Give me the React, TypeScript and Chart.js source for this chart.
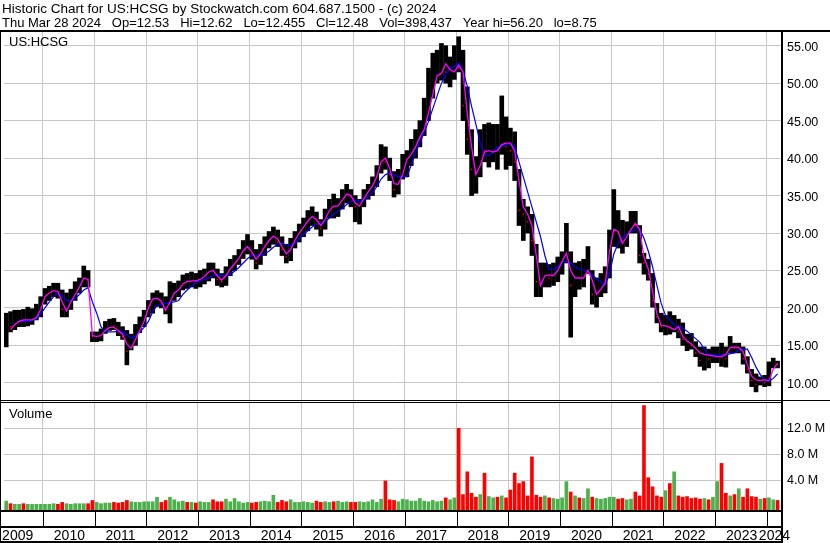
import React, { useEffect, useRef } from 'react';
import { Chart, registerables } from 'chart.js';

Chart.register(...registerables);

const FONT = '"Liberation Sans", Arial, Helvetica, sans-serif';

// First monthly bar: April 2009; last: March 2024 (180 months)
const FIRST_YEAR = 2009;
const FIRST_MONTH = 4;

// Monthly high (USD)
const high = [
  19.3, 19.5, 19.7, 19.7, 19.8, 20.1, 19.9, 20.5, 21.5,
  22.6, 22.9, 23.3, 23.3, 22.4, 22.0, 22.5, 23.5, 24.0, 25.6, 25.0, 16.8,
  16.8, 17.2, 18.2, 18.5, 18.6, 18.1, 17.5, 17.0, 16.5, 17.8, 18.8, 19.7,
  21.0, 22.0, 22.3, 22.0, 21.5, 23.5, 23.3, 23.6, 24.4, 24.6, 24.8, 24.6,
  25.0, 25.2, 26.0, 26.0, 25.2, 24.6, 25.5, 26.5, 27.0, 27.8, 29.0, 29.8,
  29.0, 27.8, 28.5, 29.5, 30.2, 30.8, 30.4, 29.5, 28.5, 29.3, 30.2, 31.2,
  32.0, 33.0, 33.5, 32.8, 31.8, 33.2, 34.5, 35.2, 34.6, 35.8, 36.5, 35.8,
  35.0, 34.5, 35.8, 36.5, 37.5, 39.0, 41.8, 41.5, 40.0, 38.2, 38.5, 40.5,
  41.0, 42.5, 43.8, 45.0, 48.0, 52.0, 54.0, 54.4, 55.3, 55.0, 53.5, 55.0,
  56.2, 54.4, 49.5, 43.8, 40.2, 43.8, 44.5, 44.7, 44.5, 44.5, 48.3, 45.5,
  44.0, 43.5, 38.5, 34.5, 33.5, 32.5, 28.5, 26.0, 26.0, 25.8, 26.0, 26.8,
  27.5, 31.3, 27.5, 26.0, 26.2, 26.5, 28.2, 25.0, 24.0, 24.6, 25.5, 30.4,
  35.8, 33.0, 31.7, 31.5, 32.9, 32.9, 31.0, 27.3, 26.5, 24.6, 20.6, 19.3,
  19.0, 19.5, 19.0, 18.5, 18.0, 16.5, 16.6, 15.5, 14.8, 14.8, 14.5, 14.8,
  14.8, 15.3, 14.8, 16.2, 15.3, 15.3, 14.8, 13.5, 11.8, 11.2, 10.8, 11.0,
  12.8, 13.3, 12.9,
];

// Monthly low (USD)
const low = [
  14.8, 16.8, 17.1, 17.5, 17.5, 17.6, 17.8, 18.4, 18.8,
  20.5, 21.0, 21.5, 21.3, 18.8, 18.8, 19.8, 21.0, 22.0, 22.8, 22.8, 15.5,
  15.5, 15.6, 16.6, 17.0, 17.1, 16.3, 15.8, 12.4, 14.4, 15.0, 16.7, 17.5,
  18.8, 19.3, 20.2, 20.0, 19.2, 18.0, 21.0, 21.5, 22.4, 22.6, 22.8, 22.6,
  22.8, 23.2, 23.6, 24.0, 23.0, 22.8, 23.0, 24.3, 25.0, 25.8, 26.6, 27.2,
  26.5, 25.2, 25.8, 27.0, 28.0, 28.5, 28.2, 27.0, 26.0, 26.3, 28.0, 28.8,
  29.5, 30.3, 31.0, 30.5, 29.6, 30.5, 32.0, 32.0, 32.2, 33.2, 34.0, 33.5,
  31.5, 31.2, 33.5, 34.5, 35.0, 36.2, 38.0, 38.5, 37.0, 34.8, 35.2, 37.2,
  37.5, 39.0, 40.0, 41.5, 43.0, 45.0, 48.0, 50.0, 50.4, 50.0, 49.5, 50.5,
  51.5, 45.0, 40.5, 35.0, 35.3, 37.5, 39.5, 38.8, 39.5, 38.5, 40.5, 38.5,
  39.0, 37.0, 31.0, 29.0, 30.0, 27.0, 21.5, 21.5, 22.8, 22.8, 23.0, 23.5,
  24.5, 26.0, 16.1, 21.5, 22.5, 22.8, 24.6, 20.5, 20.1, 21.5, 22.0, 24.0,
  28.2, 28.0, 27.3, 28.2, 30.0, 30.0, 26.0, 24.5, 23.7, 20.1, 18.0, 16.8,
  16.4, 16.5, 16.8, 16.0, 15.0, 14.3, 14.5, 13.5, 12.2, 11.7, 12.0, 12.7,
  12.7, 12.2, 12.1, 14.0, 14.0, 14.0, 12.5, 11.3, 9.5, 8.8, 9.7, 9.5,
  9.6, 12.0, 12.0,
];

// Monthly close (USD)
const close = [
  18.0, 17.5, 18.2, 18.6, 18.3, 18.5, 18.8, 19.6, 20.6,
  21.9, 22.2, 22.5, 22.0, 19.8, 20.2, 21.6, 22.8, 23.6, 24.5, 23.8, 16.2,
  16.2, 16.5, 17.6, 17.8, 17.6, 16.8, 16.2, 14.2, 15.6, 17.2, 18.2, 19.2,
  20.5, 21.2, 21.5, 20.8, 19.8, 22.0, 22.5, 22.8, 23.6, 23.5, 23.8, 23.6,
  24.0, 24.5, 25.2, 25.0, 23.8, 23.5, 24.8, 25.6, 26.2, 27.0, 28.2, 28.4,
  27.2, 26.0, 28.0, 28.6, 29.5, 30.0, 28.8, 27.8, 26.8, 28.8, 29.6, 30.5,
  31.2, 32.0, 32.5, 31.2, 30.6, 32.6, 33.8, 33.5, 33.8, 35.0, 35.5, 34.8,
  33.5, 33.8, 35.2, 35.8, 36.8, 38.2, 40.5, 39.5, 37.8, 35.8, 37.8, 39.0,
  39.5, 41.0, 42.0, 43.5, 46.5, 50.0, 51.5, 52.0, 53.0, 51.5, 51.5, 52.5,
  52.0, 47.0, 42.5, 38.5, 38.0, 41.5, 41.0, 41.8, 42.0, 41.0, 43.0, 41.5,
  41.0, 39.5, 33.0, 32.5, 31.5, 29.0, 23.5, 23.2, 24.8, 24.0, 24.8, 25.5,
  26.5, 27.0, 23.0, 24.5, 24.0, 24.5, 26.0, 21.8, 22.0, 23.5, 24.5, 29.5,
  31.5, 30.0, 29.0, 30.0, 31.5, 31.0, 27.0, 26.0, 24.5, 21.0, 18.8, 17.5,
  17.8, 17.4, 18.0, 16.8, 15.8, 15.5, 15.0, 14.0, 13.0, 13.5, 13.2, 13.5,
  13.6, 13.5, 13.2, 15.0, 14.6, 14.8, 13.2, 11.8, 10.3, 9.8, 10.3, 10.0,
  12.2, 12.8, 12.48,
];

// Short moving average (magenta)
const maFast = [
  null, 17.1, 17.8, 18.2, 18.4, 18.4, 18.4, 18.7, 19.8,
  21.5, 22.0, 22.3, 22.2, 20.8, 19.6, 20.8, 21.8, 22.8, 24.0, 23.8, 16.3,
  16.2, 16.3, 17.0, 17.4, 17.4, 17.0, 16.5, 15.2, 14.6, 15.8, 17.0, 18.2,
  20.0, 21.2, 21.3, 20.9, 19.7, 20.8, 22.0, 22.4, 23.2, 23.5, 23.6, 23.6,
  23.8, 24.2, 24.8, 25.0, 24.3, 23.7, 24.3, 25.2, 25.9, 26.6, 27.6, 28.2,
  27.5, 26.5, 27.2, 28.2, 29.0, 29.6, 29.2, 28.2, 27.2, 27.8, 29.0, 30.0,
  30.8, 31.6, 32.2, 31.8, 31.0, 31.8, 33.0, 33.6, 33.6, 34.4, 35.2, 35.0,
  34.0, 33.6, 34.6, 35.5, 36.3, 37.5, 39.5, 40.0, 38.6, 36.6, 36.5, 37.8,
  39.8, 40.5, 41.5, 42.8, 43.8, 46.0, 48.5, 51.0, 51.3, 52.6, 51.8, 51.5,
  52.4, 51.5, 46.0, 41.5, 37.8, 39.0, 40.8, 41.0, 40.8, 41.0, 41.8, 42.0,
  42.0, 41.0, 37.0, 33.5, 32.5, 31.0, 27.0, 23.0, 24.3, 24.4, 24.3, 25.0,
  26.2, 27.3, 25.0, 24.0, 24.0, 24.0, 25.0, 23.7, 21.8, 22.5, 23.3, 27.5,
  30.5, 30.2, 28.6, 29.5, 30.5, 31.3, 30.5, 26.8, 25.2, 22.2, 19.2, 17.7,
  17.6, 17.4, 17.1, 17.5, 16.2, 15.6, 15.2, 14.6, 14.0, 13.8, 13.7, 13.6,
  13.5, 13.5, 13.8, 14.7, 14.8, 14.7, 14.2, 12.4, 10.9, 10.4, 10.3, 10.4,
  10.3, 11.8, 12.6,
];

// Long moving average (blue)
const maSlow = [
  null, null, null, 18.2, 18.2, 18.2, 18.3, 18.6, 19.2,
  20.0, 20.8, 21.5, 22.0, 21.6, 21.0, 21.0, 21.3, 21.8, 22.4, 22.7, 20.8,
  19.3, 17.5, 16.8, 16.8, 16.8, 16.9, 16.8, 16.4, 16.0, 16.2, 16.8, 17.4,
  18.2, 19.5, 20.3, 20.5, 20.6, 20.7, 20.8, 21.0, 21.8, 22.4, 22.9, 23.4,
  23.6, 23.8, 24.0, 24.3, 24.4, 24.3, 24.3, 24.5, 24.9, 25.4, 26.0, 26.6,
  27.0, 27.0, 27.0, 27.2, 27.6, 28.1, 28.5, 28.6, 28.4, 28.3, 28.6, 29.2,
  29.8, 30.3, 30.8, 31.2, 31.3, 31.5, 32.0, 32.5, 32.9, 33.3, 33.8, 34.2,
  34.4, 34.3, 34.4, 34.8, 35.4, 36.2, 37.2, 37.8, 38.0, 37.8, 37.5, 37.6,
  37.5, 39.1, 40.7, 42.0, 43.4, 44.9, 46.6, 48.3, 50.0, 51.1, 52.0, 52.2,
  52.7, 51.6, 49.6, 46.9, 44.5, 42.0, 40.5, 40.3, 40.9, 41.4, 41.6, 41.8,
  42.0, 41.5, 39.5, 37.5, 35.5, 33.5, 31.5, 29.5, 27.0, 25.1, 25.1, 25.5,
  26.1, 26.2, 26.0, 25.5, 25.2, 25.1, 24.8, 24.4, 23.9, 23.5, 23.1, 24.5,
  27.2, 28.6, 29.4, 29.8, 30.2, 30.4, 30.5, 29.3, 27.6, 25.5, 23.0, 20.6,
  19.0, 18.4, 17.8, 17.5, 17.3, 16.9, 16.4, 15.9, 15.4, 14.5, 13.8, 13.7,
  13.7, 13.7, 13.7, 13.9, 14.0, 14.3, 14.5, 14.5, 13.4, 12.1, 11.1, 10.4,
  10.2, 10.6, 11.2,
];

// Volume (millions of shares)
const volume = [
  0.8, 0.4, 0.3, 0.3, 0.4, 0.3, 0.3, 0.3, 0.3,
  0.3, 0.3, 0.4, 0.3, 0.6, 0.4, 0.3, 0.4, 0.4, 0.4, 0.4, 0.9,
  0.6, 0.4, 0.5, 0.5, 0.6, 0.5, 0.6, 0.9, 0.7, 0.6, 0.6, 0.7,
  0.7, 0.7, 1.4, 0.6, 0.9, 1.4, 1.0, 0.7, 0.8, 0.6, 0.6, 0.5,
  0.7, 0.6, 0.6, 1.0, 0.7, 0.7, 1.1, 0.7, 1.2, 0.7, 0.5, 0.6,
  0.5, 0.6, 0.7, 0.8, 0.7, 1.7, 0.6, 0.9, 0.7, 1.0, 0.6, 0.6,
  0.7, 0.6, 0.5, 0.8, 0.6, 0.7, 0.6, 0.7, 0.8, 0.6, 0.7, 0.6,
  0.6, 0.7, 0.6, 0.7, 1.0, 0.6, 1.1, 3.9, 1.0, 0.9, 0.7, 1.1,
  1.0, 0.8, 0.8, 1.2, 0.8, 0.7, 0.9, 0.7, 0.8, 1.3, 1.0, 1.3,
  12.0, 1.8, 5.3, 2.0, 1.4, 1.8, 5.1, 1.5, 1.3, 1.4, 1.6, 1.3,
  2.5, 5.1, 3.5, 3.8, 1.6, 7.6, 1.7, 1.4, 1.6, 1.3, 1.2, 1.1,
  1.3, 3.8, 2.2, 1.6, 1.3, 1.2, 2.7, 1.4, 1.2, 1.1, 1.2, 1.4,
  1.4, 1.1, 1.2, 1.0, 1.1, 2.2, 1.6, 15.5, 4.4, 3.0, 1.6, 1.4,
  2.4, 3.5, 5.3, 1.6, 1.4, 1.5, 1.2, 1.3, 1.1, 1.2, 1.0, 1.4,
  3.8, 6.6, 2.0, 1.6, 1.8, 2.7, 1.4, 2.7, 1.5, 1.4, 1.1, 1.2,
  1.3, 1.0, 0.9,
];

const yearLabels = [2009, 2010, 2011, 2012, 2013, 2014, 2015, 2016, 2017, 2018, 2019, 2020, 2021, 2022, 2023, 2024];
const priceTicks = [10, 12.5, 15, 17.5, 20, 22.5, 25, 27.5, 30, 32.5, 35, 37.5, 40, 42.5, 45, 47.5, 50, 52.5, 55];
const volumeTicks = [4, 8, 12];

const headerLine1 = 'Historic Chart for US:HCSG by Stockwatch.com 604.687.1500 - (c) 2024';
const headerLine2 = 'Thu Mar 28 2024   Op=12.53   Hi=12.62   Lo=12.455   Cl=12.48   Vol=398,437   Year hi=56.20   lo=8.75';
const symbolLabel = 'US:HCSG';
const volumeLabel = 'Volume';

// axis ranges
const X_MIN = 2009.249;
const X_MAX = 2024.275;
const PRICE_MIN = 7.58;
const PRICE_MAX = 56.83;
const VOL_MIN = -0.57;
const VOL_MAX = 16.2;

function monthPos(i: number): number {
  const m = FIRST_MONTH - 1 + i;
  return FIRST_YEAR + (m + 0.5) / 12;
}

const framePlugin = {
  id: 'stockwatchFrame',
  afterDraw(chart: any) {
    const { ctx, scales } = chart;
    const xs = scales.x;
    ctx.save();
    ctx.fillStyle = '#000';
    ctx.textBaseline = 'alphabetic';
    ctx.textAlign = 'left';
    ctx.font = `13.5px ${FONT}`;
    ctx.fillText(headerLine1, 2, 13);
    ctx.font = `13px ${FONT}`;
    ctx.fillText(headerLine2, 2, 27);

    // frame lines
    ctx.fillRect(0, 30, 830, 2);
    ctx.fillRect(0, 30, 1, 513);
    ctx.fillRect(781, 30, 2, 513);
    ctx.fillRect(0, 400, 830, 1);
    ctx.fillRect(0, 402, 781, 1);
    ctx.fillRect(0, 510, 781, 2);
    ctx.fillRect(0, 526, 781, 2);
    ctx.fillRect(0, 541, 781, 2);
    for (const yr of yearLabels) {
      if (yr <= FIRST_YEAR) continue;
      const px = Math.round(xs.getPixelForValue(yr));
      ctx.fillRect(px, 512, 1, 14);
    }

    ctx.font = `13px ${FONT}`;
    ctx.fillText(symbolLabel, 9, 46);
    ctx.fillText(volumeLabel, 9, 418);

    ctx.font = `14px ${FONT}`;
    for (const yr of yearLabels) {
      const s = String(yr);
      const w = ctx.measureText(s).width;
      const px = xs.getPixelForValue(yr) + 11;
      const x = Math.min(Math.max(px, 2), 790 - w);
      ctx.fillText(s, x, 540);
    }
    ctx.restore();
  },
};

export default function App() {
  const ref = useRef<HTMLCanvasElement | null>(null);

  useEffect(() => {
    const canvas = ref.current;
    if (!canvas) return;
    Chart.defaults.font.family = FONT;

    const rangeData = high.map((h, i) => ({ x: monthPos(i), y: [low[i], h] }));
    const fastData = maFast.map((v, i) => ({ x: monthPos(i), y: v }));
    const slowData = maSlow.map((v, i) => ({ x: monthPos(i), y: v }));
    const downTicks = close
      .map((c, i) => ({ x: monthPos(i), y: c, down: i > 0 && c < close[i - 1] }))
      .filter((p) => p.down)
      .map((p) => ({ x: p.x, y: p.y }));
    const volData = volume.map((v, i) => ({ x: monthPos(i), y: v }));
    const volColors = volume.map((_, i) => (i > 0 && close[i] < close[i - 1] ? '#ff0000' : '#4cb04c'));

    const chart = new Chart(canvas, {
      type: 'bar',
      data: {
        datasets: [
          {
            type: 'line',
            label: 'MA short',
            data: fastData as any,
            borderColor: '#ff00ff',
            borderWidth: 1.3,
            pointRadius: 0,
            tension: 0,
            yAxisID: 'yP',
            order: 0,
          },
          {
            type: 'line',
            label: 'MA long',
            data: slowData as any,
            borderColor: '#0000ff',
            borderWidth: 1.2,
            pointRadius: 0,
            tension: 0,
            yAxisID: 'yP',
            order: 1,
          },
          {
            type: 'scatter',
            label: 'Close',
            data: downTicks as any,
            backgroundColor: '#ff0000',
            borderColor: '#ff0000',
            pointStyle: 'rect',
            pointRadius: 1,
            borderWidth: 0,
            yAxisID: 'yP',
            order: 2,
          },
          {
            type: 'bar',
            label: 'Range',
            data: rangeData as any,
            backgroundColor: '#000000',
            barThickness: 4,
            grouped: false,
            yAxisID: 'yP',
            order: 3,
          },
          {
            type: 'bar',
            label: 'Volume',
            data: volData as any,
            backgroundColor: volColors,
            barThickness: 3,
            grouped: false,
            base: VOL_MIN,
            yAxisID: 'yV',
            order: 4,
          } as any,
        ],
      },
      options: {
        responsive: false,
        maintainAspectRatio: false,
        animation: false,
        layout: { padding: { left: 1, top: 32, right: 0, bottom: 0 } },
        plugins: {
          legend: { display: false },
          tooltip: { enabled: false },
        },
        scales: {
          x: {
            type: 'linear',
            min: X_MIN,
            max: X_MAX,
            position: 'bottom',
            offset: false,
            grid: { color: '#c8c8c8', lineWidth: 1, drawTicks: false, offset: false },
            border: { display: false },
            ticks: { display: false },
            afterBuildTicks: (s: any) => {
              s.ticks = yearLabels.filter((y) => y > FIRST_YEAR).map((v) => ({ value: v }));
            },
            afterFit: (s: any) => {
              s.height = 33;
            },
          },
          yP: {
            type: 'linear',
            position: 'right',
            stack: 'panels',
            stackWeight: 369,
            min: PRICE_MIN,
            max: PRICE_MAX,
            grid: { color: '#c8c8c8', lineWidth: 1, drawTicks: false },
            border: { display: false },
            ticks: {
              color: '#000',
              font: { family: FONT, size: 12.5 },
              padding: 6,
              labelOffset: 1.5,
              callback: (v: any) => Number(v).toFixed(2),
            },
            afterBuildTicks: (s: any) => {
              s.ticks = priceTicks.map((v) => ({ value: v }));
            },
            afterFit: (s: any) => {
              s.width = 49;
            },
          },
          yV: {
            type: 'linear',
            position: 'right',
            stack: 'panels',
            stackWeight: 109,
            min: VOL_MIN,
            max: VOL_MAX,
            grid: { color: '#c8c8c8', lineWidth: 1, drawTicks: false },
            border: { display: false },
            ticks: {
              color: '#000',
              font: { family: FONT, size: 12.5 },
              padding: 6,
              callback: (v: any) => Number(v).toFixed(1) + ' M',
            },
            afterBuildTicks: (s: any) => {
              s.ticks = volumeTicks.map((v) => ({ value: v }));
            },
            afterFit: (s: any) => {
              s.width = 49;
            },
          },
        } as any,
      },
      plugins: [framePlugin],
    });

    return () => {
      chart.destroy();
    };
  }, []);

  return (
    <div style={{ position: 'absolute', left: 0, top: 0, width: 830, height: 543, background: '#fff' }}>
      <canvas ref={ref} width={830} height={543} style={{ display: 'block', width: 830, height: 543 }} />
    </div>
  );
}
